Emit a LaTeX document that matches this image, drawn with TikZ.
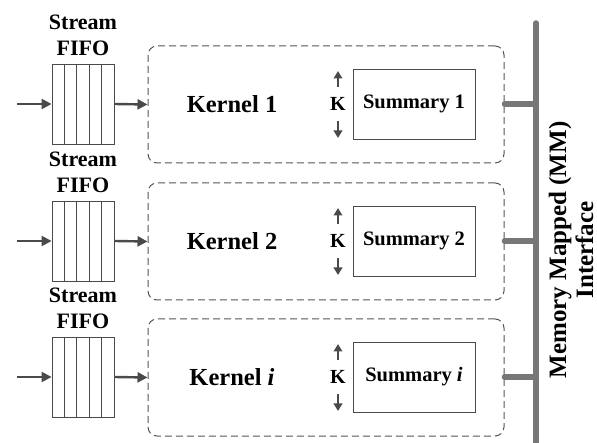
\documentclass[tikz,border=0pt]{standalone}
\usepackage{fontspec}
\setmainfont{Liberation Serif}
\usetikzlibrary{arrows.meta,calc}
\definecolor{linegray}{HTML}{4A4A4A}
\definecolor{busgray}{HTML}{777777}
\definecolor{boxgray}{HTML}{555555}
\tikzset{
  fifobox/.style={draw=linegray, line width=0.8pt, minimum width=62pt, minimum height=80pt, inner sep=0pt},
  kernelbox/.style={draw=boxgray, line width=1pt, dash pattern=on 7pt off 4pt, rounded corners=9pt, minimum width=356pt, minimum height=117pt, inner sep=0pt},
  sumbox/.style={draw=linegray, line width=0.9pt, minimum width=122pt, minimum height=70pt, inner sep=0pt, font=\fontsize{20.5}{23}\selectfont\bfseries},
  flow/.style={draw=linegray, line width=2.4pt, -{Triangle[length=10pt,width=10pt]}},
  karrow/.style={draw=linegray, line width=2.2pt, -{Triangle[length=7.5pt,width=8.5pt]}},
  busline/.style={draw=busgray, line width=5.5pt, line cap=round},
  lbl/.style={inner sep=0pt, align=center},
}
\begin{document}
\begin{tikzpicture}[x=1pt,y=-1pt]
\useasboundingbox (0,0) rectangle (597,443);
% bus
\coordinate (bustop) at (536,23);
\draw[busgray, line width=5.5pt, line cap=round] (bustop) -- (536,443);
\foreach \r/\c/\lab in {1/104/1, 2/241/2, 3/377/\textit{i}} {
  \node[fifobox] (f\r) at (83,\c) {};
  \foreach \k in {1,2,3,4} {
    \draw[linegray, line width=0.8pt] ($(f\r.north west)!\k/5!(f\r.north east)$) -- ($(f\r.south west)!\k/5!(f\r.south east)$);
  }
  \node[lbl, font=\fontsize{22}{26}\selectfont\bfseries] (sf\r) at (83,\c-69) {Stream\\FIFO};
  \coordinate (in\r) at (17,\c);
  \node[kernelbox] (k\r) at (326,\c+0.5) {};
  \node[lbl, font=\fontsize{24.5}{28}\selectfont\bfseries] (kl\r) at (232,\c) {Kernel \lab};
  \node[sumbox] (s\r) at (414,\c) {Summary \lab};
  \node[lbl, font=\fontsize{20}{22}\selectfont\bfseries] (kk\r) at (338,\c) {K};
  \coordinate (ku\r) at (338,\c-17);
  \coordinate (kut\r) at (338,\c-33);
  \coordinate (kd\r) at (338,\c+17);
  \coordinate (kdt\r) at (338,\c+34);
  \coordinate (bus\r) at (536,\c);
  \draw[flow] (in\r) -- (f\r.west);
  \draw[flow] (f\r.east) -- (k\r.west);
  \draw[karrow] (ku\r) -- (kut\r);
  \draw[karrow] (kd\r) -- (kdt\r);
  \draw[busline] (k\r.east |- bus\r) -- (bus\r);
}
\node[lbl, rotate=90, font=\fontsize{25}{27}\selectfont\bfseries] (mm) at (571,250) {Memory Mapped (MM)\\Interface};
\end{tikzpicture}
\end{document}
